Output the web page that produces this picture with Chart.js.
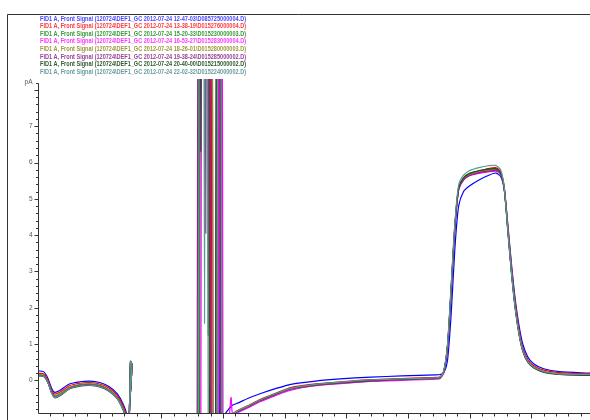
<!DOCTYPE html>
<html>
<head>
<meta charset="utf-8">
<script src="https://cdn.jsdelivr.net/npm/chart.js@4/dist/chart.umd.min.js"></script>
<style>
  html, body { margin: 0; padding: 0; background: #fff; }
</style>
</head>
<body>
<canvas id="chart" width="590" height="420"></canvas>
<script>
// retention time (arbitrary axis units, one per major tick)
const times = [
  0.00, 0.09, 0.16, 0.22, 0.27, 0.35, 0.51, 0.68, 0.84, 1.00,
  1.15, 1.28, 1.38, 1.44, 1.47, 1.50, 1.52, 1.55,
  2.56, 2.58, 2.60, 2.62, 2.64, 2.66, 2.68, 2.70, 2.72, 2.74, 2.76, 2.78,
  2.80, 2.82, 2.84, 2.88, 2.90, 2.92, 2.94, 2.96, 2.98, 3.00,
  3.03, 3.08, 3.13, 3.16, 3.25, 3.40, 3.60, 3.85, 4.10, 4.50,
  4.90, 5.40, 5.90, 6.45, 6.52, 6.58, 6.64, 6.70, 6.76, 6.82,
  6.90, 7.00, 7.15, 7.30, 7.42, 7.50, 7.56, 7.62, 7.68, 7.74,
  7.80, 7.86, 7.94, 8.04, 8.20, 8.45, 8.95
];

// signals in pA (off-scale solvent peaks written as 20 / -1.6)
const sig1 = [
  0.26, 0.24, 0.06, -0.22, -0.33, -0.28, -0.10, -0.04, -0.02, -0.06,
  -0.17, -0.36, -0.65, -0.95, -1.6, 0.52, 0.45, -1.6,
  -1.6, -1.6, -1.6, 20, 20, 20, 20, 20, 20, 20, 20, 20,
  -1.6, -1.6, -1.6, -1.6, -1.6, 20, -1.6, -1.6, -1.6, -1.6,
  -0.95, -0.82, -0.72, -0.68, -0.62, -0.50, -0.37, -0.23, -0.11, -0.02,
  0.04, 0.09, 0.12, 0.15, 0.16, 0.20, 0.55, 1.85, 3.65, 4.80,
  5.20, 5.36, 5.52, 5.64, 5.71, 5.62, 5.25, 4.25, 3.15, 2.20,
  1.50, 1.00, 0.65, 0.45, 0.32, 0.24, 0.20
];
const sig2 = [
  0.19, 0.18, 0.01, -0.27, -0.38, -0.33, -0.15, -0.08, -0.06, -0.10,
  -0.21, -0.41, -0.71, -1.02, -1.6, 0.50, 0.44, -1.6,
  -1.6, -1.6, -1.6, 20, 20, 20, 20, 20, 20, 20, 20, 20,
  20, -1.6, -1.6, -1.6, -1.6, 20, 20, -1.6, -1.6, -1.6,
  -1.6, -1.3, -1.0, -0.92, -0.82, -0.70, -0.53, -0.36, -0.20, -0.10,
  -0.04, 0.02, 0.05, 0.08, 0.10, 0.24, 0.90, 2.50, 4.20, 5.25,
  5.55, 5.68, 5.76, 5.83, 5.86, 5.76, 5.32, 4.20, 3.05, 2.10,
  1.40, 0.90, 0.58, 0.40, 0.28, 0.21, 0.18
];
const sig3 = [
  0.15, 0.14, -0.03, -0.31, -0.43, -0.38, -0.20, -0.12, -0.10, -0.14,
  -0.26, -0.46, -0.77, -1.08, -1.6, 0.52, 0.45, -1.6,
  -1.6, -1.6, -1.6, -1.6, 20, 20, 20, 20, 20, 20, 1.24, 20,
  -1.6, -1.6, -1.6, -1.6, 20, 20, 20, -1.6, -1.6, -1.6,
  -1.6, -1.4, -1.05, -0.93, -0.84, -0.72, -0.55, -0.38, -0.23, -0.12,
  -0.06, 0.00, 0.03, 0.06, 0.08, 0.25, 0.95, 2.55, 4.25, 5.30,
  5.58, 5.70, 5.76, 5.80, 5.81, 5.72, 5.28, 4.12, 2.95, 2.00,
  1.30, 0.83, 0.53, 0.36, 0.24, 0.18, 0.15
];
const sig4 = [
  0.13, 0.12, -0.05, -0.33, -0.45, -0.40, -0.21, -0.14, -0.12, -0.16,
  -0.28, -0.48, -0.79, -1.10, -1.6, 0.48, 0.42, -1.6,
  -1.6, -1.6, -1.6, -1.6, -1.6, 20, 20, 20, 20, 20, 20, 1.46,
  20, 20, -1.6, -1.6, -1.6, -1.6, 20, 20, 20, -1.6,
  -1.6, -1.4, -0.47, -1.0, -0.88, -0.76, -0.59, -0.42, -0.27, -0.15,
  -0.09, -0.03, 0.00, 0.03, 0.05, 0.22, 0.90, 2.50, 4.20, 5.25,
  5.52, 5.64, 5.70, 5.74, 5.76, 5.68, 5.26, 4.12, 2.95, 2.00,
  1.30, 0.82, 0.52, 0.35, 0.23, 0.17, 0.14
];
const sig5 = [
  0.14, 0.13, -0.04, -0.32, -0.44, -0.39, -0.20, -0.13, -0.11, -0.15,
  -0.27, -0.47, -0.78, -1.09, -1.6, 0.50, 0.44, -1.6,
  -1.6, -1.6, -1.6, 20, 20, 20, 20, 20, 20, 20, 20, 20,
  20, 20, -1.6, -1.6, -1.6, 20, 20, 20, -1.6, -1.6,
  -1.6, -1.4, -1.05, -0.93, -0.84, -0.72, -0.55, -0.38, -0.23, -0.13,
  -0.07, -0.01, 0.03, 0.05, 0.07, 0.25, 0.95, 2.55, 4.25, 5.28,
  5.55, 5.67, 5.74, 5.78, 5.80, 5.71, 5.27, 4.12, 2.95, 2.00,
  1.30, 0.83, 0.53, 0.36, 0.24, 0.18, 0.15
];
const sig6 = [
  0.13, 0.12, -0.05, -0.33, -0.46, -0.41, -0.22, -0.14, -0.12, -0.16,
  -0.28, -0.48, -0.80, -1.11, -1.6, 0.49, 0.43, -1.6,
  -1.6, -1.6, 20, 20, 20, 20, 20, 20, 4.05, 20, 20, 20,
  -1.6, -1.6, -1.6, -1.6, 20, 20, 20, -1.6, -1.6, -1.6,
  -1.6, -1.4, -1.06, -0.94, -0.85, -0.73, -0.56, -0.39, -0.24, -0.14,
  -0.08, -0.02, 0.02, 0.05, 0.07, 0.24, 0.92, 2.52, 4.22, 5.25,
  5.52, 5.64, 5.72, 5.76, 5.78, 5.70, 5.27, 4.12, 2.95, 2.00,
  1.30, 0.82, 0.52, 0.35, 0.23, 0.17, 0.14
];
const sig7 = [
  0.12, 0.11, -0.06, -0.35, -0.48, -0.43, -0.24, -0.16, -0.14, -0.18,
  -0.30, -0.50, -0.82, -1.13, -1.6, 0.52, 0.46, -1.6,
  -1.6, -1.6, -1.6, 20, 6.3, 20, 20, 20, 20, 20, 20, -1.6,
  -1.6, -1.6, -1.6, -1.6, 20, 20, 20, 20, -1.6, -1.6,
  -1.6, -1.4, -1.05, -0.93, -0.84, -0.72, -0.55, -0.38, -0.23, -0.12,
  -0.06, 0.00, 0.03, 0.06, 0.07, 0.26, 0.98, 2.60, 4.30, 5.30,
  5.58, 5.70, 5.78, 5.82, 5.83, 5.73, 5.25, 4.05, 2.88, 1.93,
  1.25, 0.80, 0.50, 0.34, 0.22, 0.16, 0.14
];
const sig8 = [
  0.12, 0.11, -0.06, -0.34, -0.47, -0.42, -0.23, -0.15, -0.13, -0.17,
  -0.29, -0.49, -0.81, -1.12, -1.6, 0.53, 0.47, -1.6,
  -1.6, -1.6, -1.6, 20, 20, 20, 20, 1.57, 20, 20, -1.6, -1.6,
  -1.6, -1.6, -1.6, -1.6, -1.6, 20, 20, 20, -1.6, -1.6,
  -1.6, -1.4, -1.04, -0.92, -0.83, -0.71, -0.54, -0.37, -0.22, -0.11,
  -0.05, 0.01, 0.04, 0.07, 0.08, 0.27, 1.00, 2.65, 4.35, 5.38,
  5.65, 5.78, 5.86, 5.91, 5.92, 5.80, 5.30, 4.08, 2.90, 1.95,
  1.27, 0.82, 0.52, 0.36, 0.24, 0.18, 0.16
];

const seriesLabels = [
  'FID1 A, Front Signal (120724\\DEF1_GC 2012-07-24 12-47-03\\D085725000004.D)',
  'FID1 A, Front Signal (120724\\DEF1_GC 2012-07-24 13-38-19\\D015276000004.D)',
  'FID1 A, Front Signal (120724\\DEF1_GC 2012-07-24 15-20-33\\D015230000003.D)',
  'FID1 A, Front Signal (120724\\DEF1_GC 2012-07-24 16-53-27\\D015283000004.D)',
  'FID1 A, Front Signal (120724\\DEF1_GC 2012-07-24 18-26-01\\D015280000003.D)',
  'FID1 A, Front Signal (120724\\DEF1_GC 2012-07-24 19-38-24\\D015285000002.D)',
  'FID1 A, Front Signal (120724\\DEF1_GC 2012-07-24 20-40-00\\D015215000002.D)',
  'FID1 A, Front Signal (120724\\DEF1_GC 2012-07-24 22-02-32\\D015224000002.D)'
];
const seriesValues = [sig1, sig2, sig3, sig4, sig5, sig6, sig7, sig8];

const yTickValues = [0, 1, 2, 3, 4, 5, 6, 7];
const yTickLabels = ['0', '1', '2', '3', '4', '5', '6', '7'];
const yUnitLabel = 'pA';

const colors = ['#0000ff', '#ff0000', '#009000', '#ff00ff', '#909020', '#902090', '#1f4f1f', '#5f9595'];
const textColors = ['#4848ff', '#ff3a3a', '#3a9a3a', '#ff3aff', '#9a9a40', '#9a409a', '#2f5a2f', '#6a9c9c'];

const Y_MIN = -0.9, Y_MAX = 8.3, Y_TOP_TICK = 8.2;
const X_MIN = 0, X_MAX = 8.95;

const frameAndLegend = {
  id: 'frameAndLegend',
  beforeDraw(chart) {
    const ctx = chart.ctx;
    ctx.save();
    ctx.fillStyle = '#fff';
    ctx.fillRect(0, 0, chart.width, chart.height);
    ctx.strokeStyle = '#333';
    ctx.lineWidth = 1;
    ctx.beginPath();
    ctx.moveTo(7.5, chart.height);
    ctx.lineTo(7.5, 14.5);
    ctx.lineTo(chart.width, 14.5);
    ctx.stroke();
    ctx.font = 'bold 7px "Liberation Sans"';
    ctx.textBaseline = 'alphabetic';
    seriesLabels.forEach((txt, i) => {
      ctx.fillStyle = textColors[i];
      ctx.fillText(txt, 40, 20.5 + i * 7.65, 206);
    });
    ctx.restore();
  }
};

const axes = {
  id: 'axes',
  afterDatasetsDraw(chart) {
    const { ctx, scales: { x, y } } = chart;
    const ax = Math.round(x.getPixelForValue(X_MIN)) + 0.5;
    const ay = Math.round(y.getPixelForValue(Y_MIN)) + 0.5;
    const right = x.getPixelForValue(X_MAX);
    ctx.save();
    ctx.strokeStyle = '#333';
    ctx.lineWidth = 1;
    ctx.beginPath();
    const yTop = Math.round(y.getPixelForValue(Y_TOP_TICK)) + 0.5;
    ctx.moveTo(ax, yTop);
    ctx.lineTo(ax, ay);
    ctx.lineTo(right, ay);
    // minor ticks every 0.2
    for (let k = -4; k <= 41; k++) {
      const py = Math.round(y.getPixelForValue(k / 5)) + 0.5;
      const len = k % 5 === 0 ? 4 : 2.5;
      ctx.moveTo(ax - len, py);
      ctx.lineTo(ax, py);
    }
    for (let k = 1; k <= 44; k++) {
      const px = Math.round(x.getPixelForValue(k / 5)) + 0.5;
      const len = k % 5 === 0 ? 5 : 3;
      ctx.moveTo(px, ay);
      ctx.lineTo(px, ay + len);
    }
    ctx.stroke();

    ctx.fillStyle = '#555';
    ctx.font = '6.5px "Liberation Sans"';
    ctx.textAlign = 'right';
    ctx.textBaseline = 'middle';
    yTickValues.forEach((v, i) => {
      ctx.fillText(yTickLabels[i], ax - 6, y.getPixelForValue(v));
    });
    ctx.fillText(yUnitLabel, ax - 6, y.getPixelForValue(Y_TOP_TICK));
    ctx.restore();
  }
};

new Chart(document.getElementById('chart'), {
  type: 'line',
  data: {
    datasets: seriesValues.map((vals, i) => ({
      label: seriesLabels[i],
      data: times.map((t, j) => ({ x: t, y: vals[j] })),
      borderColor: colors[i],
      borderWidth: 1.2,
      pointRadius: 0,
      tension: 0.25,
      fill: false,
      order: seriesValues.length - i
    }))
  },
  options: {
    responsive: false,
    animation: false,
    devicePixelRatio: 1,
    layout: { padding: { left: 38, right: 0, top: 79, bottom: 7 } },
    plugins: { legend: { display: false }, tooltip: { enabled: false } },
    scales: {
      x: { type: 'linear', min: X_MIN, max: X_MAX, display: false },
      y: { type: 'linear', min: Y_MIN, max: Y_MAX, display: false }
    }
  },
  plugins: [frameAndLegend, axes]
});
</script>
</body>
</html>
